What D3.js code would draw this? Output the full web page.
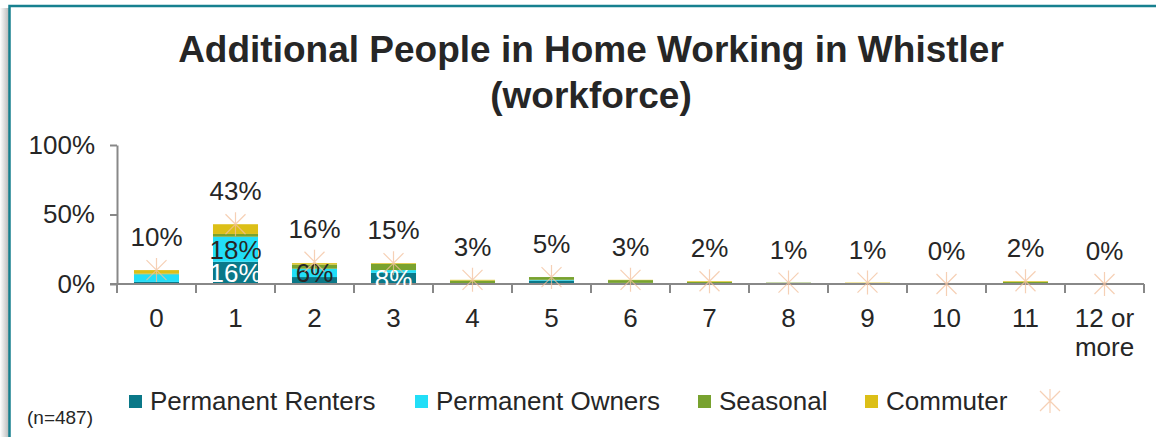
<!DOCTYPE html>
<html>
<head>
<meta charset="utf-8">
<script src="https://cdn.jsdelivr.net/npm/d3@7"></script>
<style>
  body { margin: 0; background: #fff; }
  svg { display: block; font-family: "Liberation Sans", Arial, sans-serif; }
</style>
</head>
<body>
<svg width="1156" height="437"></svg>
<script>
// chart data (percent of workforce)
var categories = ["0", "1", "2", "3", "4", "5", "6", "7", "8", "9", "10", "11", "12 or more"];
var seriesNames = ["Permanent Renters", "Permanent Owners", "Seasonal", "Commuter"];
var renters   = [1.5, 16, 5, 8, 0.3, 2.5, 0.5, 0, 0.3, 0, 0, 0, 0];
var owners    = [5.5, 18, 6, 2, 0.2, 0.5, 0.3, 0.5, 0, 0, 0, 0, 0];
var seasonal  = [0.5, 2, 3, 4.5, 2, 2, 2, 1, 0.7, 0.5, 0, 1.5, 0];
var commuter  = [2.5, 7, 1, 0.5, 0.5, 0, 0.2, 0.5, 0, 0.5, 0, 0.5, 0];
var totals    = [10, 43, 16, 15, 3, 5, 3, 2, 1, 1, 0, 2, 0];
var renterLabels = ["", "16%", "", "8%", "", "", "", "", "", "", "", "", ""];
var ownerLabels  = ["", "18%", "6%", "", "", "", "", "", "", "", "", "", ""];
var yTicks = [0, 50, 100];

var colors = ["#0a7888", "#22def7", "#78a22f", "#dcbf17"];
var starColor = "#f3c09c";
var fs = 26;

var svg = d3.select("svg");

// frame with shadow
var defs = svg.append("defs");
var grad = defs.append("linearGradient").attr("id", "shadow").attr("x1", 0).attr("x2", 1);
grad.append("stop").attr("offset", 0).attr("stop-color", "#fff");
grad.append("stop").attr("offset", 1).attr("stop-color", "#b8b8b8");
svg.append("rect").attr("x", 0).attr("y", 8).attr("width", 9).attr("height", 437).attr("fill", "url(#shadow)");
svg.append("rect")
    .attr("x", 9.5).attr("y", 6).attr("width", 1160).attr("height", 440)
    .attr("fill", "#fff").attr("stroke", "#17808f").attr("stroke-width", 2.5);

// title
var title = svg.append("text")
    .attr("text-anchor", "middle")
    .attr("font-weight", "bold")
    .attr("font-size", 37)
    .attr("fill", "#262626");
title.append("tspan").attr("x", 591).attr("y", 62).text("Additional People in Home Working in Whistler");
title.append("tspan").attr("x", 591).attr("y", 108).text("(workforce)");

// scales
var x = d3.scaleBand().domain(categories).range([117, 1144]).paddingInner(0.43).paddingOuter(0.215);
var y = d3.scaleLinear().domain([0, 100]).range([284, 145]);

// y axis
var yAxis = svg.append("g")
    .attr("transform", "translate(117,0)")
    .call(d3.axisLeft(y).tickValues(yTicks).tickFormat(function(d) { return d + "%"; }).tickSize(7).tickSizeOuter(0));
yAxis.select(".domain").attr("stroke", "#888").attr("stroke-width", 2);
yAxis.selectAll(".tick line").attr("stroke", "#888").attr("stroke-width", 2);
yAxis.selectAll(".tick text").attr("font-size", fs).attr("fill", "#262626").attr("x", -22).attr("font-family", "Liberation Sans, Arial, sans-serif");

// stacked bars
var table = categories.map(function(c, i) {
    return { cat: c, r: renters[i], o: owners[i], s: seasonal[i], c2: commuter[i] };
});
var stack = d3.stack().keys(["r", "o", "s", "c2"])(table);

svg.append("g").selectAll("g")
    .data(stack)
    .enter().append("g")
        .attr("fill", function(d, i) { return colors[i]; })
    .selectAll("rect")
    .data(function(d) { return d; })
    .enter().append("rect")
        .attr("x", function(d) { return x(d.data.cat); })
        .attr("y", function(d) { return y(d[1]); })
        .attr("width", x.bandwidth())
        .attr("height", function(d) { return y(d[0]) - y(d[1]); });

// segment labels
function segLabels(series, labels, color) {
    svg.append("g").selectAll("text")
        .data(series)
        .enter().append("text")
            .attr("x", function(d) { return x(d.data.cat) + x.bandwidth() / 2; })
            .attr("y", function(d) { return (y(d[0]) + y(d[1])) / 2; })
            .attr("dy", "0.36em")
            .attr("text-anchor", "middle")
            .attr("font-size", fs)
            .attr("fill", color)
            .text(function(d, i) { return labels[i]; });
}

// x axis
var xAxis = svg.append("g").attr("transform", "translate(0,284)");
xAxis.append("line").attr("x1", 110).attr("x2", 1144).attr("stroke", "#888").attr("stroke-width", 2);
xAxis.selectAll(".bt")
    .data(categories.concat(["end"]))
    .enter().append("line")
        .attr("x1", function(d, i) { return 117 + i * x.step(); })
        .attr("x2", function(d, i) { return 117 + i * x.step(); })
        .attr("y1", 0).attr("y2", 9)
        .attr("stroke", "#888").attr("stroke-width", 2);
var xl = xAxis.selectAll(".xl")
    .data(categories)
    .enter().append("text")
        .attr("text-anchor", "middle")
        .attr("font-size", fs)
        .attr("fill", "#262626");
xl.each(function(d) {
    var words = d === "12 or more" ? ["12 or", "more"] : [d];
    var t = d3.select(this);
    words.forEach(function(w, k) {
        t.append("tspan").attr("x", x(d) + x.bandwidth() / 2).attr("y", 43 + k * 29).text(w);
    });
});

segLabels(stack[0], renterLabels, "#ffffff");
segLabels(stack[1], ownerLabels, "#262626");

// total markers
function star(g, cx, cy) {
    var r = 10;
    g.append("path")
        .attr("d", "M" + (cx - r) + "," + (cy - r) + "L" + (cx + r) + "," + (cy + r) +
                   "M" + (cx - r) + "," + (cy + r) + "L" + (cx + r) + "," + (cy - r) +
                   "M" + cx + "," + (cy - r - 2) + "L" + cx + "," + (cy + r + 2))
        .attr("stroke", starColor).attr("stroke-width", 1.2).attr("opacity", 0.75).attr("fill", "none");
}
var marks = svg.append("g");
totals.forEach(function(v, i) {
    star(marks, x(categories[i]) + x.bandwidth() / 2, y(v));
});

// total labels
svg.append("g").selectAll("text")
    .data(totals)
    .enter().append("text")
        .attr("x", function(d, i) { return x(categories[i]) + x.bandwidth() / 2; })
        .attr("y", function(d) { return y(d) - 24; })
        .attr("text-anchor", "middle")
        .attr("font-size", fs)
        .attr("fill", "#262626")
        .text(function(d) { return d + "%"; });

// legend
var legendX = [129, 415, 698, 865];
var legend = svg.append("g");
seriesNames.forEach(function(name, i) {
    legend.append("rect").attr("x", legendX[i]).attr("y", 395).attr("width", 13).attr("height", 13).attr("fill", colors[i]);
    legend.append("text").attr("x", legendX[i] + 21).attr("y", 410).attr("font-size", fs).attr("fill", "#262626").text(name);
});
star(legend, 1050, 401);

// sample size note
svg.append("text").attr("x", 27).attr("y", 424).attr("font-size", 19).attr("fill", "#262626").text("(n=487)");
</script>
</body>
</html>
